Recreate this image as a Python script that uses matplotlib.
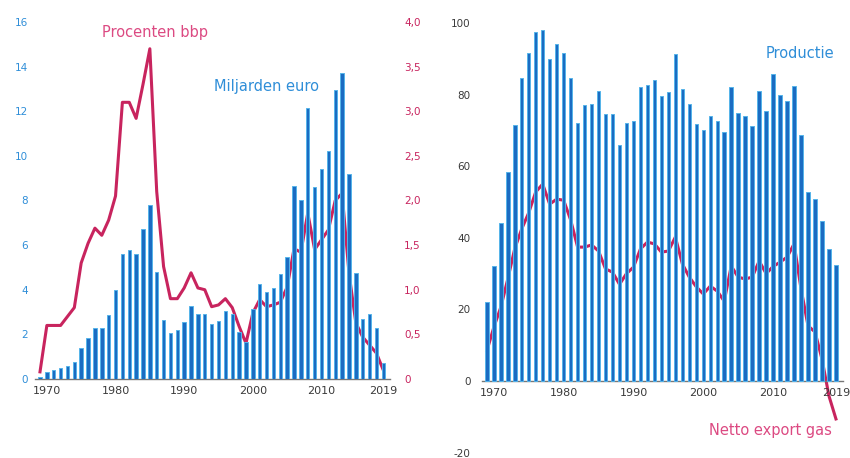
import matplotlib
matplotlib.use("Agg")
import matplotlib.pyplot as plt
from matplotlib.ticker import FixedLocator, FixedFormatter

# --------- Data ------------------------------------
years = list(range(1969, 2020))

# left panel: gas revenues
miljarden_euro = [0.1, 0.3, 0.4, 0.5, 0.6, 0.75, 1.4, 1.85, 2.3, 2.3,
                  2.85, 4.0, 5.6, 5.8, 5.6, 6.7, 7.8, 4.8, 2.65, 2.05,
                  2.2, 2.55, 3.25, 2.9, 2.9, 2.45, 2.6, 3.05, 2.9, 2.1,
                  1.65, 3.15, 4.25, 3.9, 4.1, 4.7, 5.45, 8.65, 8.0, 12.15,
                  8.6, 9.4, 10.2, 12.95, 13.7, 9.2, 4.75, 2.7, 2.9, 2.3,
                  0.7]
procenten_bbp = [0.08, 0.6, 0.6, 0.6, 0.7, 0.8, 1.3, 1.52, 1.69, 1.61,
                 1.78, 2.05, 3.1, 3.1, 2.92, 3.3, 3.7, 2.1, 1.26, 0.9,
                 0.9, 1.02, 1.19, 1.02, 1.0, 0.81, 0.83, 0.9, 0.8, 0.59,
                 0.4, 0.74, 0.89, 0.81, 0.83, 0.86, 1.03, 1.46, 1.42, 1.86,
                 1.45, 1.56, 1.67, 2.0, 2.08, 1.19, 0.63, 0.47, 0.38, 0.29,
                 0.1]

# right panel: production and net export
productie = [22, 32, 44, 58.5, 71.5, 84.5, 91.5, 97.5, 98, 90,
             94, 91.5, 84.5, 72, 77, 77.5, 81, 74.5, 74.5, 66,
             72, 72.5, 82, 82.8, 84, 79.7, 80.8, 91.3, 81.6, 77.4,
             71.8, 70, 74, 72.6, 69.5, 82, 74.8, 74, 71.3, 81,
             75.4, 85.8, 80, 78.2, 82.5, 68.8, 52.8, 50.8, 44.7, 37,
             32.4]
netto_export = [8.4, 15, 20.6, 28.5, 37, 42.5, 47, 52.8, 55, 49.4,
                50.8, 50.5, 45, 37.4, 37.4, 38, 36.3, 31.3, 30.4, 27,
                30, 31.8, 36.9, 38.8, 38.3, 36, 36.3, 40.2, 32.7, 29,
                26.3, 24.3, 26.5, 25.1, 22.3, 32.1, 29, 28.5, 29, 33.5,
                30, 32, 33.2, 34.6, 38.3, 25.7, 15.4, 13.7, 6.1, -4.2,
                -10.6]

xticks = [1970, 1980, 1990, 2000, 2010, 2019]
left_ticks = [0, 2, 4, 6, 8, 10, 12, 14, 16]
bbp_ticks = [0, 0.5, 1.0, 1.5, 2.0, 2.5, 3.0, 3.5, 4.0]
bbp_labels = ["0", "0,5", "1,0", "1,5", "2,0", "2,5", "3,0", "3,5", "4,0"]
right_ticks = [-20, 0, 20, 40, 60, 80, 100]

BAR = "#1b6cc2"
BAR_EDGE = "#55b4ea"
LINE = "#c8245e"
PINK = "#dc4a82"
BLUE_TXT = "#2f8ed8"
GREY = "#3a3a3a"

plt.rcParams["font.family"] = "DejaVu Sans"
plt.rcParams["axes.unicode_minus"] = False

fig = plt.figure(figsize=(8.5, 4.58), dpi=100)
fig.patch.set_facecolor("white")

# --------- Left panel ----------
ax1 = fig.add_axes([0.0414, 0.1725, 0.4176, 0.7795])
ax1.bar(years, miljarden_euro, width=0.5, color=BAR, edgecolor=BAR_EDGE,
        linewidth=0.7, zorder=3)
ax1.set_xlim(1968.3, 2020)
ax1.set_ylim(0, 16)
ax1.yaxis.set_major_locator(FixedLocator(left_ticks))
ax1.set_xticks(xticks)
ax1.tick_params(axis="y", length=0, labelsize=7.5, labelcolor=BLUE_TXT, pad=5)
ax1.tick_params(axis="x", length=0, labelsize=8, labelcolor=GREY, pad=5)
for s in ["top", "left", "right"]:
    ax1.spines[s].set_visible(False)
ax1.spines["bottom"].set_color("#777777")
ax1.spines["bottom"].set_linewidth(1.0)

ax2 = ax1.twinx()
ax2.plot(years, procenten_bbp, color=LINE, lw=2.2, zorder=1)
ax2.set_ylim(0, 4.0)
ax2.yaxis.set_major_locator(FixedLocator(bbp_ticks))
ax2.yaxis.set_major_formatter(FixedFormatter(bbp_labels))
ax2.tick_params(axis="y", length=0, labelsize=7.5, labelcolor=LINE, pad=10)
for s in ["top", "left", "right", "bottom"]:
    ax2.spines[s].set_visible(False)
# line behind the bars, like the original
ax1.set_zorder(ax2.get_zorder() + 1)
ax1.patch.set_visible(False)

fig.text(155 / 850, 1 - 32 / 458, "Procenten bbp", color=PINK, fontsize=10.5,
         ha="center", va="center")
fig.text(266 / 850, 1 - 86 / 458, "Miljarden euro", color=BLUE_TXT, fontsize=10.5,
         ha="center", va="center")

# --------- Right panel ----------
ax3 = fig.add_axes([0.567, 0.0118, 0.4247, 0.938])
ax3.plot(years, netto_export, color=LINE, lw=2.2, zorder=1)
ax3.bar(years, productie, width=0.5, color=BAR, edgecolor=BAR_EDGE,
        linewidth=0.7, zorder=3)
ax3.set_xlim(1968.3, 2020)
ax3.set_ylim(-20, 100)
ax3.yaxis.set_major_locator(FixedLocator(right_ticks))
ax3.set_xticks(xticks)
ax3.tick_params(axis="y", length=0, labelsize=7.5, labelcolor=GREY, pad=8)
ax3.tick_params(axis="x", length=0, labelsize=8, labelcolor=GREY, pad=5)
for s in ["top", "left", "right"]:
    ax3.spines[s].set_visible(False)
ax3.spines["bottom"].set_position(("data", 0))
ax3.spines["bottom"].set_color("#777777")
ax3.spines["bottom"].set_linewidth(1.0)

fig.text(800 / 850, 1 - 54 / 458, "Productie", color=BLUE_TXT, fontsize=10.5,
         ha="center", va="center")
fig.text(770 / 850, 1 - 430 / 458, "Netto export gas", color=PINK, fontsize=10.5,
         ha="center", va="center")

fig.savefig("out.png", dpi=100, facecolor="white")
